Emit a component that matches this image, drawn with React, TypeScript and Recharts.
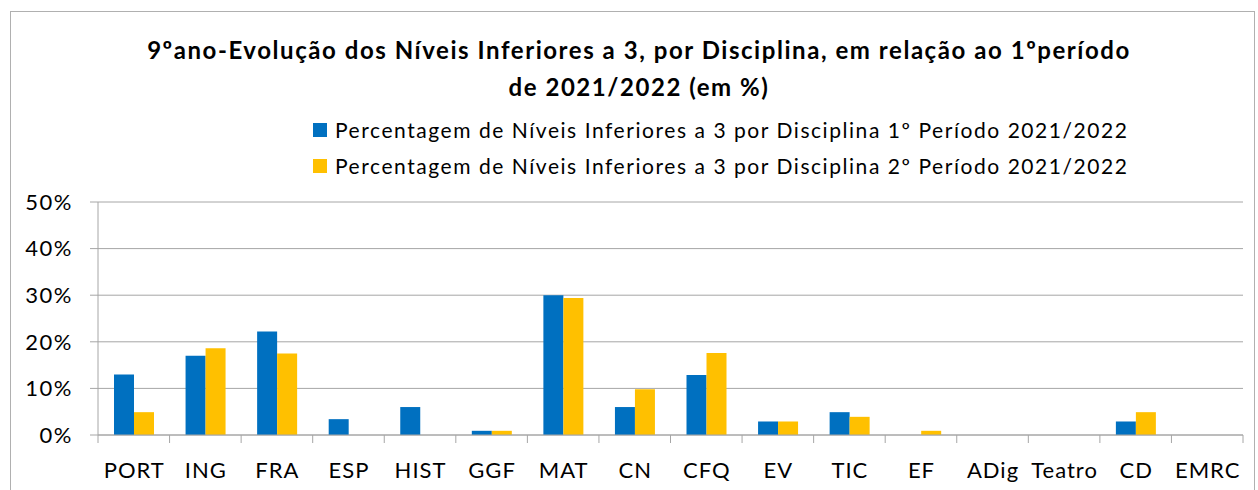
import React from "react";
import { BarChart, Bar, XAxis, YAxis, CartesianGrid } from "recharts";

const categories = ["PORT", "ING", "FRA", "ESP", "HIST", "GGF", "MAT", "CN", "CFQ", "EV", "TIC", "EF", "ADig", "Teatro", "CD", "EMRC"];
const periodo1 = [13, 17, 22.2, 3.4, 6, 0.9, 30, 6, 12.9, 2.9, 4.9, 0, 0, 0, 2.9, 0];
const periodo2 = [4.9, 18.6, 17.5, 0, 0, 0.9, 29.4, 9.8, 17.6, 2.9, 3.9, 0.9, 0, 0, 4.9, 0];
const yTicks = [0, 10, 20, 30, 40, 50];
const seriesNames = [
  "Percentagem de Níveis Inferiores a 3 por Disciplina 1º Período 2021/2022",
  "Percentagem de Níveis Inferiores a 3 por Disciplina 2º Período 2021/2022",
];
const seriesColors = ["#0070C0", "#FFC000"];
const titleLines = [
  "9ºano-Evolução dos Níveis Inferiores a 3, por Disciplina, em relação ao 1ºperíodo",
  "de 2021/2022 (em %)",
];

const data = categories.map((name, i) => ({ name, p1: periodo1[i], p2: periodo2[i] }));

const W = 1258;
const H = 490;
const margin = { top: 202, right: 15, bottom: 15, left: 18 };
const yAxisWidth = 80;
const plotW = W - margin.left - margin.right - yAxisWidth;
const band = plotW / categories.length;
const FONT = "Lato, 'Noto Sans', sans-serif";
const GRID = "#A6A6A6";

function XTick(props: any) {
  const { x, y, payload, index } = props;
  const last = index === categories.length - 1;
  return (
    <g>
      <line x1={x - band / 2} x2={x - band / 2} y1={y} y2={y + 8} stroke={GRID} />
      {last && <line x1={x + band / 2} x2={x + band / 2} y1={y} y2={y + 8} stroke={GRID} />}
      <text x={x + 0.5} y={y + 43} textAnchor="middle" fill="#000" fontSize={22} letterSpacing={1} fontFamily={FONT}>
        {payload.value}
      </text>
    </g>
  );
}

export default function App() {
  return (
    <div style={{ position: "absolute", left: 0, top: 0, width: W, height: H, background: "#fff", fontFamily: FONT }}>
      <div style={{ position: "absolute", left: 10, top: 11, width: 1245, height: 490, border: "1px solid #B0B0B0", boxSizing: "border-box" }} />
      <div style={{ position: "absolute", left: 0, top: 31, width: 1278, textAlign: "center", fontWeight: 700, fontSize: 24, letterSpacing: 1.55, lineHeight: "37px", color: "#000" }}>
        {titleLines.map((t) => (
          <div key={t}>{t}</div>
        ))}
      </div>
      <div style={{ position: "absolute", left: 313, top: 112, fontSize: 21, letterSpacing: 1.55, lineHeight: "36px", color: "#000" }}>
        {seriesNames.map((n, i) => (
          <div key={n} style={{ display: "flex", alignItems: "center" }}>
            <span style={{ display: "inline-block", width: 14, height: 14, background: seriesColors[i], marginRight: 8 }} />
            {n}
          </div>
        ))}
      </div>
      <div style={{ position: "absolute", left: 0, top: 0 }}>
        <BarChart width={W} height={H} data={data} margin={margin} barGap={0} barSize={20}>
          <CartesianGrid horizontal vertical={false} stroke={GRID} />
          <XAxis
            dataKey="name"
            interval={0}
            height={40}
            axisLine={{ stroke: GRID }}
            tickLine={false}
            tickSize={0}
            tickMargin={0}
            tick={<XTick />}
          />
          <YAxis
            width={yAxisWidth}
            domain={[0, 50]}
            ticks={yTicks}
            interval={0}
            tickSize={8}
            tickMargin={17}
            axisLine={{ stroke: GRID }}
            tickLine={{ stroke: GRID }}
            tick={{ fill: "#000", fontSize: 22, letterSpacing: 1.5, fontFamily: FONT }}
            tickFormatter={(v) => `${v}%`}
          />
          <Bar dataKey="p1" name={seriesNames[0]} fill={seriesColors[0]} isAnimationActive={false} />
          <Bar dataKey="p2" name={seriesNames[1]} fill={seriesColors[1]} isAnimationActive={false} />
        </BarChart>
      </div>
    </div>
  );
}
